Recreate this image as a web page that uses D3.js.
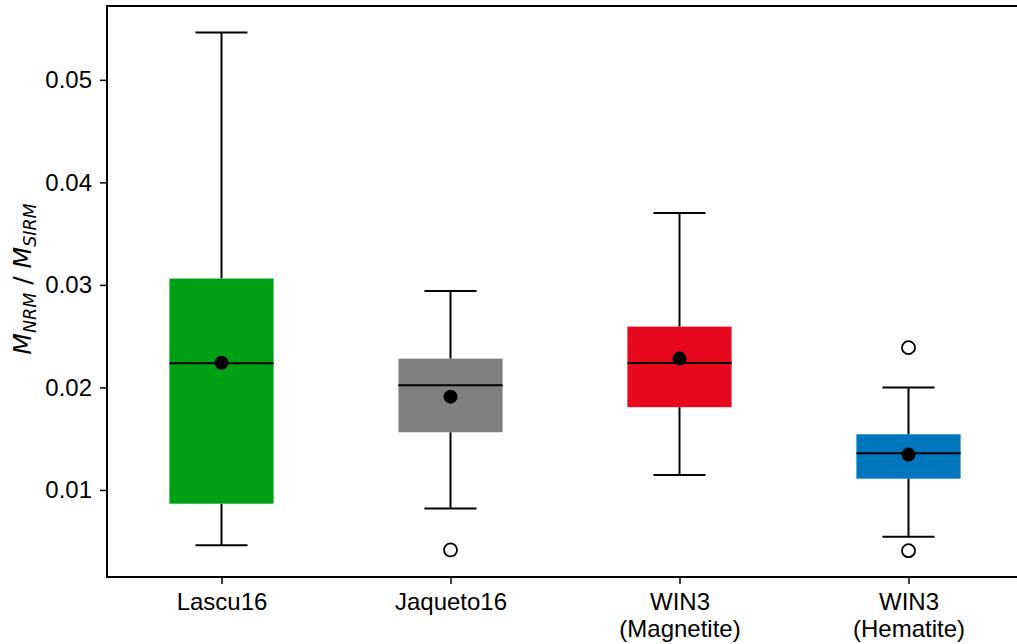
<!DOCTYPE html>
<html>
<head>
<meta charset="utf-8">
<script src="https://cdn.jsdelivr.net/npm/d3@7"></script>
<style>
  body { margin: 0; background: #fff; }
  svg { display: block; font-family: "Liberation Sans", Arial, sans-serif; }
</style>
</head>
<body>
<svg id="chart"></svg>
<script>
const width = 1017;
const height = 644;
const margin = { top: 6, left: 107, bottom: 67, right: -6 };

// box plot summaries
const categories = ["Lascu16", "Jaqueto16", "WIN3\n(Magnetite)", "WIN3\n(Hematite)"];
const whiskerLow = [0.0046, 0.0082, 0.01146, 0.00544];
const q1 = [0.00866, 0.01563, 0.01807, 0.0111];
const medians = [0.02236, 0.02021, 0.02239, 0.01358];
const q3 = [0.03062, 0.02281, 0.02593, 0.01543];
const whiskerHigh = [0.05461, 0.02941, 0.0370, 0.01998];
const means = [0.0224, 0.0191, 0.02281, 0.01345];
const outliers = [[], [0.00415], [], [0.02388, 0.00408]];
const boxColors = ["#00a014", "#808080", "#e8081e", "#0077bd"];
const yTicks = [0.01, 0.02, 0.03, 0.04, 0.05];

const rows = categories.map((c, i) => ({
  cat: c, lo: whiskerLow[i], q1: q1[i], med: medians[i], q3: q3[i],
  hi: whiskerHigh[i], mean: means[i], out: outliers[i], color: boxColors[i]
}));

const svg = d3.select("#chart").attr("width", width).attr("height", height);

const x = d3.scalePoint()
  .domain(categories)
  .range([margin.left, width - margin.right])
  .padding(0.5);

const y = d3.scaleLinear()
  .domain([0.00151, 0.0572])
  .range([height - margin.bottom, margin.top]);

const boxW = x.step() * 0.455;
const capW = boxW / 2;

// boxes
const g = svg.append("g");
const box = g.selectAll(".box").data(rows).enter().append("g").attr("class", "box");

box.append("line")
  .attr("x1", d => x(d.cat)).attr("x2", d => x(d.cat))
  .attr("y1", d => y(d.lo)).attr("y2", d => y(d.q1))
  .attr("stroke", "#000").attr("stroke-width", 2);
box.append("line")
  .attr("x1", d => x(d.cat)).attr("x2", d => x(d.cat))
  .attr("y1", d => y(d.q3)).attr("y2", d => y(d.hi))
  .attr("stroke", "#000").attr("stroke-width", 2);
box.append("line")
  .attr("x1", d => x(d.cat) - capW / 2).attr("x2", d => x(d.cat) + capW / 2)
  .attr("y1", d => y(d.lo)).attr("y2", d => y(d.lo))
  .attr("stroke", "#000").attr("stroke-width", 2);
box.append("line")
  .attr("x1", d => x(d.cat) - capW / 2).attr("x2", d => x(d.cat) + capW / 2)
  .attr("y1", d => y(d.hi)).attr("y2", d => y(d.hi))
  .attr("stroke", "#000").attr("stroke-width", 2);

box.append("rect")
  .attr("x", d => x(d.cat) - boxW / 2)
  .attr("y", d => y(d.q3))
  .attr("width", boxW)
  .attr("height", d => y(d.q1) - y(d.q3))
  .attr("fill", d => d.color);

box.append("line")
  .attr("x1", d => x(d.cat) - boxW / 2).attr("x2", d => x(d.cat) + boxW / 2)
  .attr("y1", d => y(d.med)).attr("y2", d => y(d.med))
  .attr("stroke", "#000").attr("stroke-width", 2);

box.append("circle")
  .attr("cx", d => x(d.cat)).attr("cy", d => y(d.mean))
  .attr("r", 7).attr("fill", "#000");

box.selectAll(".out").data(d => d.out.map(v => ({ cat: d.cat, v }))).enter()
  .append("circle")
  .attr("class", "out")
  .attr("cx", d => x(d.cat)).attr("cy", d => y(d.v))
  .attr("r", 6.5).attr("fill", "#fff")
  .attr("stroke", "#000").attr("stroke-width", 1.8);

// frame
svg.append("rect")
  .attr("x", margin.left).attr("y", margin.top)
  .attr("width", width - margin.right - margin.left)
  .attr("height", height - margin.bottom - margin.top)
  .attr("fill", "none").attr("stroke", "#000").attr("stroke-width", 2);

// axes
const yAxis = d3.axisLeft(y).tickValues(yTicks).tickFormat(d3.format(".2f"))
  .tickSize(7).tickPadding(8).tickSizeOuter(0);
const ya = svg.append("g").attr("transform", `translate(${margin.left},0)`).call(yAxis);
ya.select(".domain").remove();
ya.selectAll("line").attr("stroke-width", 1.5);
ya.selectAll("text").style("font-size", "24px").attr("fill", "#000")
  .style("font-family", "'Liberation Sans', Arial, sans-serif");

const xAxis = d3.axisBottom(x).tickSize(7).tickSizeOuter(0).tickFormat("");
const xa = svg.append("g").attr("transform", `translate(0,${height - margin.bottom})`).call(xAxis);
xa.select(".domain").remove();
xa.selectAll("line").attr("stroke-width", 1.5);

xa.selectAll(".tick").append("text")
  .attr("fill", "#000")
  .attr("text-anchor", "middle")
  .style("font-size", "24px")
  .style("font-family", "'Liberation Sans', Arial, sans-serif")
  .each(function(d) {
    const lines = d.split("\n");
    lines.forEach((t, i) => {
      d3.select(this).append("tspan").attr("x", 0).attr("y", 33 + i * 27).text(t);
    });
  });

// y label
const lab = svg.append("text")
  .attr("transform", `translate(31,279) rotate(-90)`)
  .attr("text-anchor", "middle")
  .style("font-size", "25px")
  .style("font-family", "'DejaVu Sans', sans-serif");
lab.append("tspan").style("font-style", "italic").text("M");
lab.append("tspan").style("font-style", "italic").style("font-size", "17.5px").attr("dy", 5).text("NRM");
lab.append("tspan").attr("dy", -5).text(" / ");
lab.append("tspan").style("font-style", "italic").text("M");
lab.append("tspan").style("font-style", "italic").style("font-size", "17.5px").attr("dy", 5).text("SIRM");
</script>
</body>
</html>
